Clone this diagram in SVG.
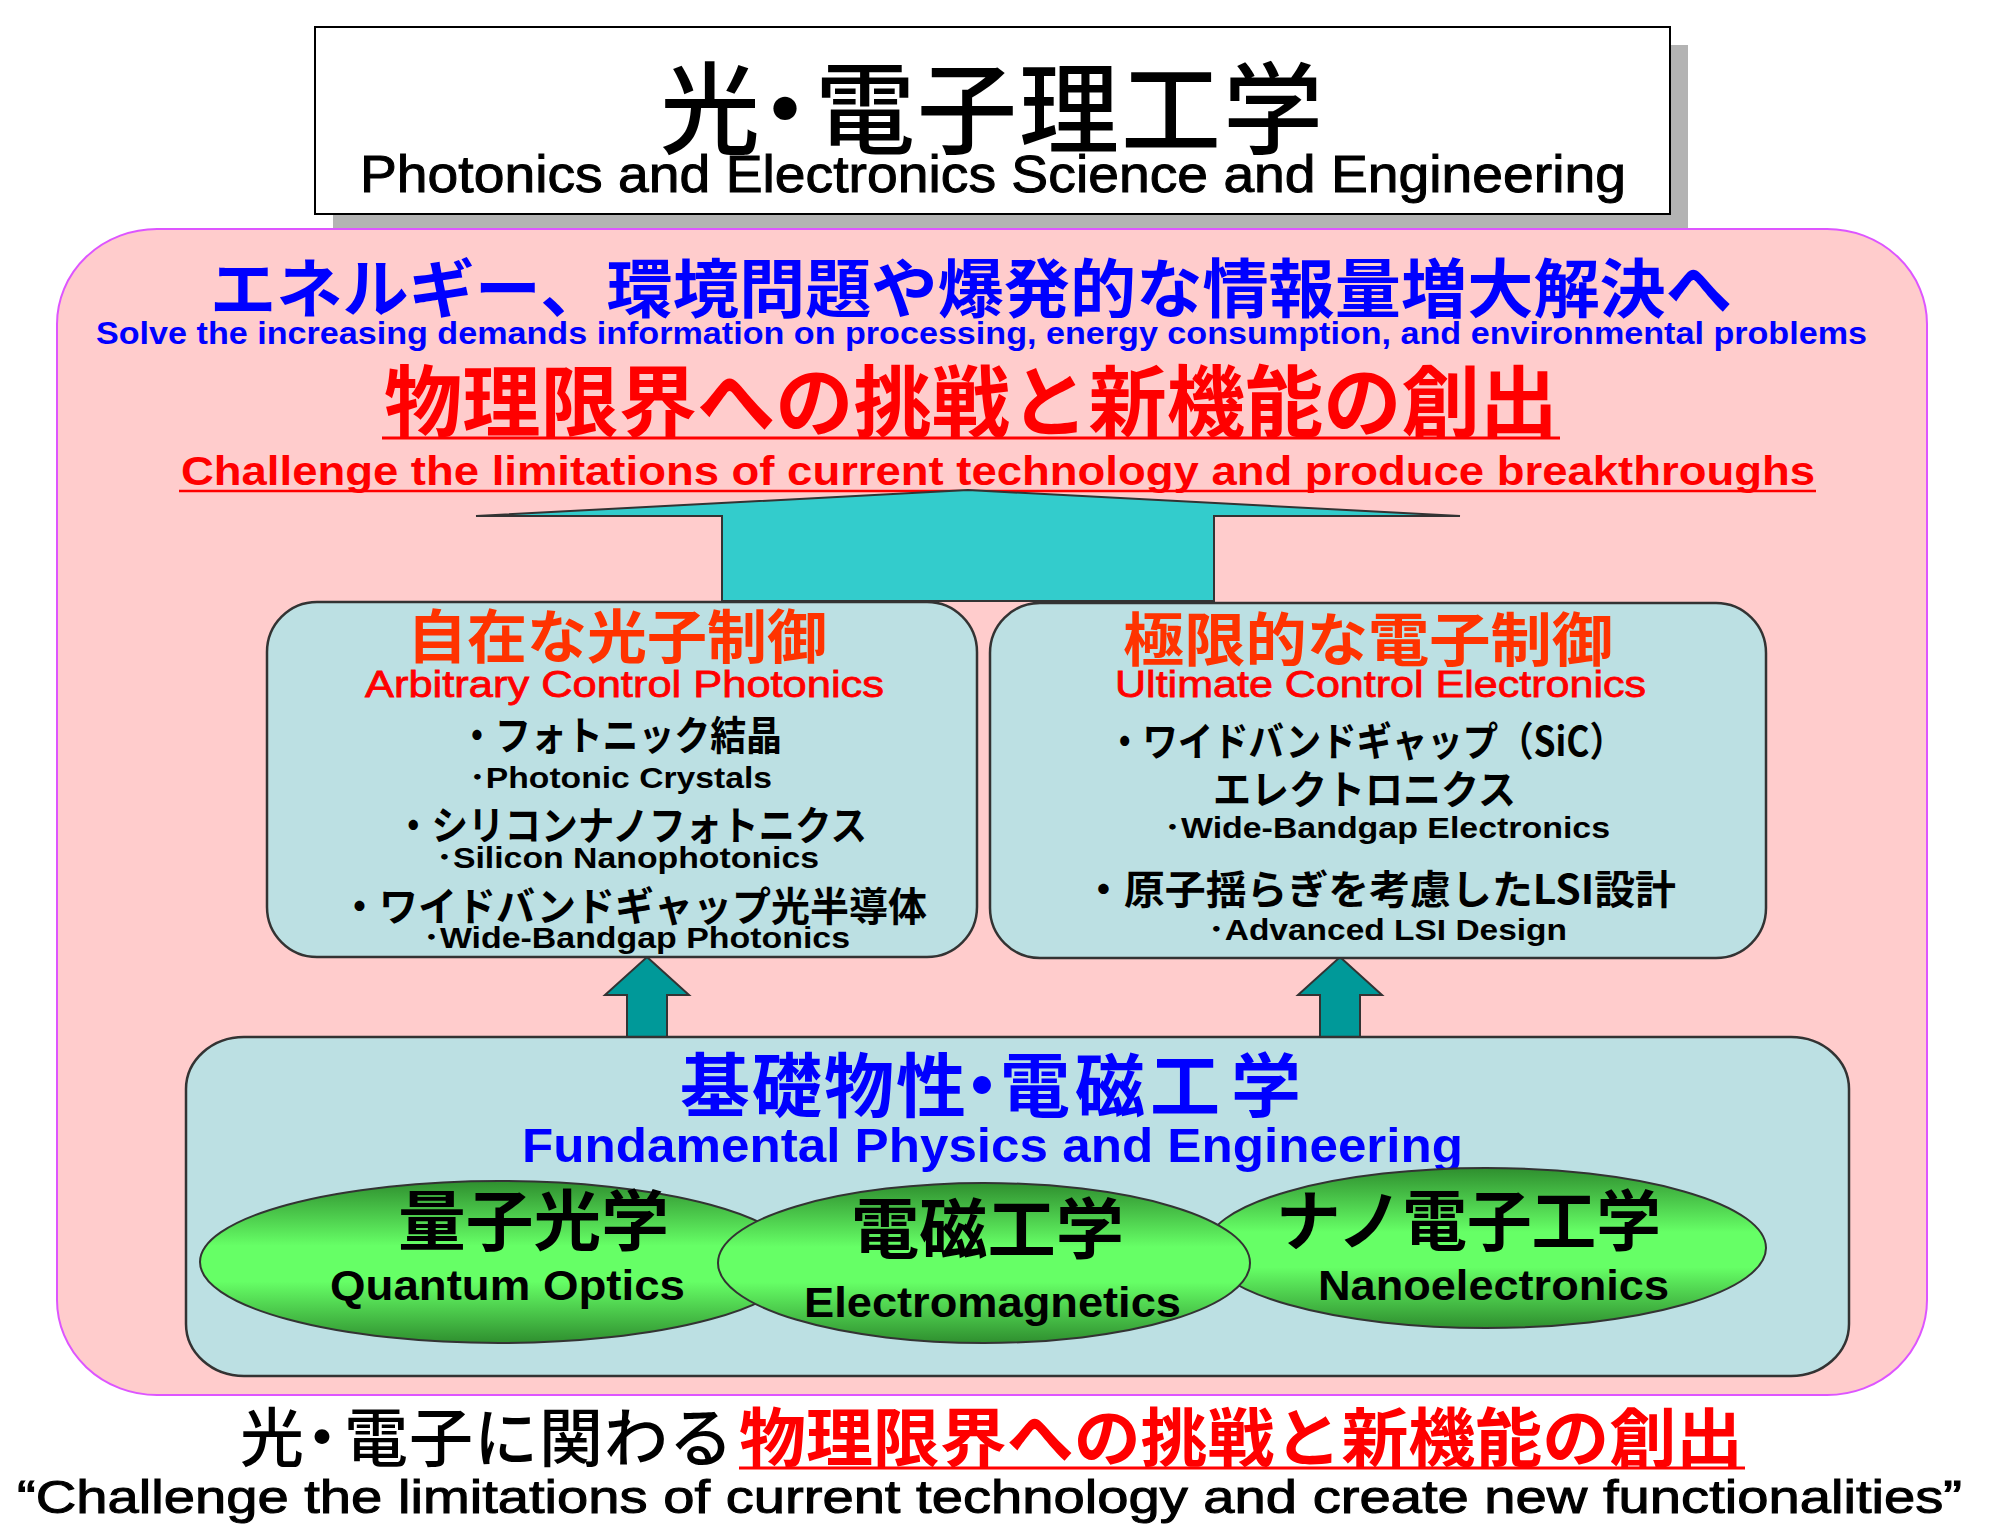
<svg xmlns="http://www.w3.org/2000/svg" width="1997" height="1527" viewBox="0 0 1997 1527">
<defs>
<style>
.jp{font-family:"Noto Sans CJK JP","Noto Sans CJK SC",sans-serif}
.en{font-family:"Liberation Sans",Arial,"Noto Sans CJK JP",sans-serif}
.b{font-weight:bold}
.m{font-weight:500}
.blk{fill:#000}
.blue{fill:#0000FF}
.red{fill:#FF0000}
.org{fill:#FF3300}
.thk{stroke:#000;stroke-width:1}
.thkr{stroke:#FF0000;stroke-width:0.8}
.box{fill:#BCE0E3;stroke:#333;stroke-width:2.5}
.ell{fill:url(#green);stroke:#333;stroke-width:2}
.bigarrow{fill:#33CCCC;stroke:#333;stroke-width:2}
.arrow{fill:#009999;stroke:#333;stroke-width:2}
.ul{stroke-width:3}
</style>
<linearGradient id="green" x1="0" y1="0" x2="0" y2="1">
<stop offset="0" stop-color="#2F8F2F"/>
<stop offset="0.4" stop-color="#66FF66"/>
<stop offset="0.62" stop-color="#66FF66"/>
<stop offset="1" stop-color="#2F8F2F"/>
</linearGradient>
</defs>
<rect width="1997" height="1527" fill="#fff"/>

<g id="title">
<rect x="333" y="45" width="1355" height="187" fill="#B3B3B3"/>
<rect x="315" y="27" width="1355" height="187" fill="#fff" stroke="#000" stroke-width="2"/>
<text class="jp m blk" x="660 735 815 917 1019 1121 1223" y="146" font-size="100">光・電子理工学</text>
<text class="en blk thk" x="360" y="192" font-size="52" textLength="1266" lengthAdjust="spacingAndGlyphs">Photonics and Electronics Science and Engineering</text>
</g>

<g id="panel">
<rect x="57" y="229" width="1870" height="1166" rx="100" ry="95" fill="#FFCCCC" stroke="#DD55FF" stroke-width="2"/>
<text class="jp b blue" x="210" y="312" font-size="64" textLength="1522" lengthAdjust="spacingAndGlyphs">エネルギー、環境問題や爆発的な情報量増大解決へ</text>
<text class="en b blue" x="96" y="344" font-size="31" textLength="1771" lengthAdjust="spacingAndGlyphs">Solve the increasing demands information on processing, energy consumption, and environmental problems</text>
<text class="jp b red" x="384" y="431" font-size="78" textLength="1174" lengthAdjust="spacingAndGlyphs">物理限界への挑戦と新機能の創出</text>
<line x1="382" y1="438" x2="1560" y2="438" stroke="#FF0000" class="ul"/>
<text class="en b red" x="181" y="485" font-size="40" textLength="1634" lengthAdjust="spacingAndGlyphs">Challenge the limitations of current technology and produce breakthroughs</text>
<line x1="179" y1="491" x2="1816" y2="491" stroke="#FF0000" stroke-width="2.5"/>
</g>

<g id="connectors">
<polygon class="bigarrow" points="476,516 968,490 1460,516 1214,516 1214,601 722,601 722,516"/>
<polygon class="arrow" points="647,957 689,995 667,995 667,1037 627,1037 627,995 605,995"/>
<polygon class="arrow" points="1340,957 1382,995 1360,995 1360,1037 1320,1037 1320,995 1298,995"/>
</g>

<g id="box-photonics">
<rect class="box" x="267" y="602" width="710" height="355" rx="50" ry="50"/>
<text class="jp b org" x="407" y="658" font-size="58" textLength="420" lengthAdjust="spacingAndGlyphs">自在な光子制御</text>
<text class="en red thkr" x="365" y="697" font-size="36" textLength="519" lengthAdjust="spacingAndGlyphs">Arbitrary Control Photonics</text>
<text class="jp b blk" x="459" y="750" font-size="40" textLength="323" lengthAdjust="spacingAndGlyphs">・フォトニック結晶</text>
<text class="en b blk" x="469" y="788" font-size="29" textLength="303" lengthAdjust="spacingAndGlyphs">･Photonic Crystals</text>
<text class="jp b blk" x="395" y="840" font-size="40" textLength="472" lengthAdjust="spacingAndGlyphs">・シリコンナノフォトニクス</text>
<text class="en b blk" x="436" y="868" font-size="29" textLength="383" lengthAdjust="spacingAndGlyphs">･Silicon Nanophotonics</text>
<text class="jp b blk" x="340" y="921" font-size="40" textLength="587" lengthAdjust="spacingAndGlyphs">・ワイドバンドギャップ光半導体</text>
<text class="en b blk" x="423" y="948" font-size="29" textLength="427" lengthAdjust="spacingAndGlyphs">･Wide-Bandgap Photonics</text>
</g>

<g id="box-electronics">
<rect class="box" x="990" y="603" width="776" height="355" rx="50" ry="50"/>
<text class="jp b org" x="1123" y="661" font-size="58" textLength="490" lengthAdjust="spacingAndGlyphs">極限的な電子制御</text>
<text class="en red thkr" x="1115" y="697" font-size="36" textLength="531" lengthAdjust="spacingAndGlyphs">Ultimate Control Electronics</text>
<text class="jp b blk" x="1107" y="756" font-size="40" textLength="518" lengthAdjust="spacingAndGlyphs">・ワイドバンドギャップ（SiC）</text>
<text class="jp b blk" x="1213" y="804" font-size="40" textLength="303" lengthAdjust="spacingAndGlyphs">エレクトロニクス</text>
<text class="en b blk" x="1164" y="838" font-size="29" textLength="446" lengthAdjust="spacingAndGlyphs">･Wide-Bandgap Electronics</text>
<text class="jp b blk" x="1083" y="904" font-size="40" textLength="593" lengthAdjust="spacingAndGlyphs">・原子揺らぎを考慮したLSI設計</text>
<text class="en b blk" x="1208" y="940" font-size="29" textLength="359" lengthAdjust="spacingAndGlyphs">･Advanced LSI Design</text>
</g>

<g id="box-fundamental">
<rect class="box" x="186" y="1037" width="1663" height="339" rx="58" ry="52"/>
<text class="jp b blue" x="680 752 824 896 947 1000 1075 1150 1231" y="1112" font-size="70">基礎物性・電磁工学</text>
<text class="en b blue" x="522" y="1162" font-size="48" textLength="941" lengthAdjust="spacingAndGlyphs">Fundamental Physics and Engineering</text>
</g>

<g id="ellipse-quantum">
<ellipse class="ell" cx="499" cy="1262" rx="299" ry="81"/>
</g>
<g id="ellipse-nano">
<ellipse class="ell" cx="1486" cy="1248" rx="280" ry="80"/>
</g>
<g id="ellipse-em">
<ellipse class="ell" cx="984" cy="1263" rx="266" ry="80"/>
</g>
<g id="ellipse-labels">
<text class="jp b blk" x="398" y="1245" font-size="66" textLength="271" lengthAdjust="spacingAndGlyphs">量子光学</text>
<text class="en b blk" x="330" y="1300" font-size="42" textLength="355" lengthAdjust="spacingAndGlyphs">Quantum Optics</text>
<text class="jp b blk" x="851" y="1253" font-size="66" textLength="273" lengthAdjust="spacingAndGlyphs">電磁工学</text>
<text class="en b blk" x="804" y="1317" font-size="42" textLength="377" lengthAdjust="spacingAndGlyphs">Electromagnetics</text>
<text class="jp b blk" x="1276" y="1245" font-size="66" textLength="385" lengthAdjust="spacingAndGlyphs">ナノ電子工学</text>
<text class="en b blk" x="1318" y="1300" font-size="42" textLength="351" lengthAdjust="spacingAndGlyphs">Nanoelectronics</text>
</g>

<g id="footer">
<text class="jp m blk" x="240 290 344 409 474 539 604 669" y="1461" font-size="64">光・電子に関わる</text>
<text class="jp b red" x="739" y="1461" font-size="64" textLength="1004" lengthAdjust="spacingAndGlyphs">物理限界への挑戦と新機能の創出</text>
<line x1="739" y1="1468" x2="1745" y2="1468" stroke="#FF0000" class="ul"/>
<text class="en blk thk" x="17" y="1513" font-size="46" textLength="1945" lengthAdjust="spacingAndGlyphs">“Challenge the limitations of current technology and create new functionalities”</text>
</g>
</svg>
